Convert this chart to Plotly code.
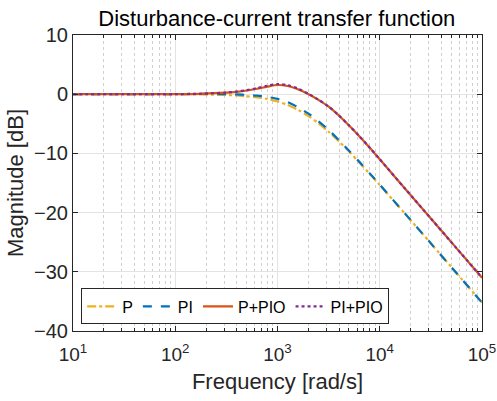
import plotly.graph_objects as go

freq = [10, 31.62, 100, 177.8, 316.2, 398.1, 501.2, 631.0, 794.3, 1000, 1259, 1585, 1995,
        2512, 3162, 3981, 5012, 6310, 7943, 10000, 17783, 31623, 56234, 100000]

mag_P = [0.0, 0.0, -0.01, -0.05, -0.14, -0.22, -0.35, -0.53, -0.80, -1.24, -1.83, -2.63, -3.65,
         -4.90, -6.35, -7.96, -9.69, -11.52, -13.40, -15.33, -20.24, -25.21, -30.20, -35.2]
mag_PI = [0.0, 0.0, 0.02, 0.05, 0.02, -0.03, -0.12, -0.25, -0.45, -0.80, -1.35, -2.20, -3.25,
          -4.55, -6.05, -7.75, -9.55, -11.42, -13.33, -15.28, -20.22, -25.20, -30.20, -35.2]
mag_PPIO = [0.0, 0.0, 0.02, 0.07, 0.25, 0.40, 0.62, 0.92, 1.28, 1.55, 1.38, 0.85, 0.05,
            -0.95, -2.10, -3.60, -5.30, -7.10, -9.00, -11.00, -16.00, -21.00, -26.00, -31.0]
mag_PIPIO = [0.0, 0.0, 0.02, 0.08, 0.28, 0.45, 0.70, 1.02, 1.42, 1.72, 1.52, 0.95, 0.10,
             -0.92, -2.08, -3.58, -5.28, -7.08, -8.99, -10.99, -16.00, -21.00, -26.00, -31.0]

x_ticks = [10, 100, 1000, 10000, 100000]
x_ticktext = ["10<sup>1</sup>", "10<sup>2</sup>", "10<sup>3</sup>", "10<sup>4</sup>", "10<sup>5</sup>"]
y_ticks = [-40, -30, -20, -10, 0, 10]

series = [
    ("P", mag_P, "#EDB120", "dashdot"),
    ("PI", mag_PI, "#0072BD", "dash"),
    ("P+PIO", mag_PPIO, "#D95319", "solid"),
    ("PI+PIO", mag_PIPIO, "#7E2F8E", "dot"),
]

minor_vals = [m * d for d in x_ticks[:-1] for m in range(2, 10)]

fig = go.Figure()
for name, mag, color, dash in series:
    fig.add_trace(go.Scatter(x=freq, y=mag, name=name, mode="lines",
                             line=dict(color=color, dash=dash, width=2.2, shape="spline", smoothing=0.8)))

font = "Liberation Sans, Arial, Helvetica, sans-serif"
axcol = "#262626"
fig.update_layout(
    width=497, height=401,
    margin=dict(l=73, r=15, t=35, b=70),
    paper_bgcolor="white", plot_bgcolor="white",
    font=dict(family=font, size=20, color=axcol),
    title=dict(text="Disturbance-current transfer function", x=0.557, xanchor="center",
               y=0.955, yanchor="middle", font=dict(size=22, color="black")),
    legend=dict(orientation="h", x=0.02, y=0.022, xanchor="left", yanchor="bottom",
                bgcolor="white", bordercolor=axcol, borderwidth=1,
                font=dict(size=16, color="black"), itemwidth=30,
                tracegroupgap=0),
    showlegend=True,
)
fig.update_xaxes(
    type="log", range=[1, 5], automargin=False,
    tickvals=x_ticks, ticktext=x_ticktext,
    showline=True, linecolor=axcol, linewidth=1, mirror="ticks",
    ticks="inside", ticklen=5, tickcolor=axcol, ticklabelstandoff=6,
    showgrid=True, gridcolor="#e3e3e3", gridwidth=1,
    minor=dict(tickmode="array", tickvals=minor_vals, ticks="inside", ticklen=3,
               tickcolor=axcol, showgrid=True,
               gridcolor="#d0d0d0", griddash="dot", gridwidth=1),
    zeroline=False,
    title=dict(text="Frequency [rad/s]", font=dict(size=22), standoff=9),
    tickfont=dict(size=19),
)
fig.update_yaxes(
    range=[-40, 10], tickvals=y_ticks, automargin=False,
    showline=True, linecolor=axcol, linewidth=1, mirror="ticks",
    ticks="inside", ticklen=5, tickcolor=axcol,
    showgrid=True, gridcolor="#e3e3e3", gridwidth=1,
    zeroline=False,
    title=dict(text="Magnitude [dB]", font=dict(size=22), standoff=4),
    tickfont=dict(size=20),
)
fig.write_html("out.html")
